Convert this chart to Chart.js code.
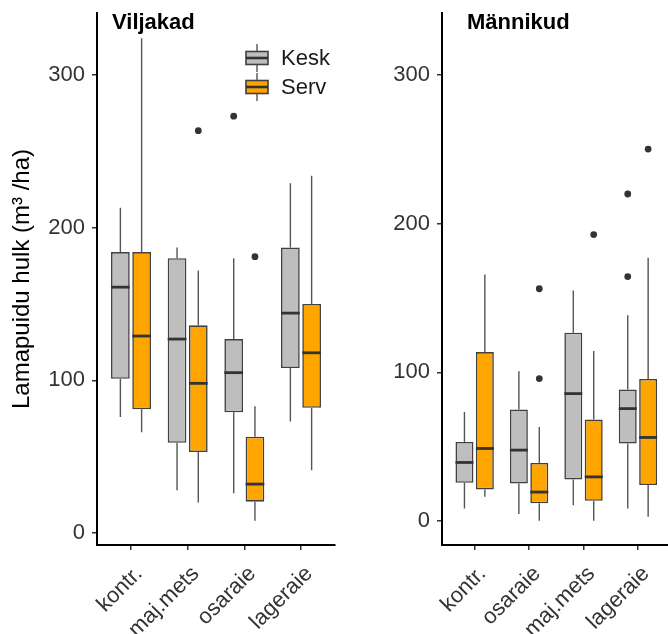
<!DOCTYPE html>
<html><head><meta charset="utf-8">
<script src="https://cdn.jsdelivr.net/npm/chart.js@4.4.0/dist/chart.umd.min.js"></script>
<style>
html,body{margin:0;padding:0;width:668px;height:634px;overflow:hidden;background:#fff;}
#w1{position:absolute;left:0;top:0;width:340px;height:634px;}
#w2{position:absolute;left:340px;top:0;width:334px;height:634px;}
</style></head><body>
<div id="w1"><canvas id="c1"></canvas></div>
<div id="w2"><canvas id="c2"></canvas></div>
<script>
// ---- DATA ----
const catsVilj = ['kontr.', 'maj.mets', 'osaraie', 'lageraie'];
const catsMann = ['kontr.', 'osaraie', 'maj.mets', 'lageraie'];
const seriesNames = ['Kesk', 'Serv'];
// each box: [lower whisker, Q1, median, Q3, upper whisker]
const viljKesk = [[76, 101, 161, 184, 213], [28, 59, 127, 180, 187], [26, 79, 105, 127, 180], [73, 108, 144, 187, 229]];
const viljServ = [[66, 81, 129, 184, 324], [20, 53, 98, 136, 172], [8, 20.5, 32, 63, 83], [41, 82, 118, 150, 234]];
const viljKeskOut = [[], [], [273], []];
const viljServOut = [[], [263.5], [181], []];
const mannKesk = [[8.5, 25.7, 39.4, 53.2, 73.4], [4.7, 25.3, 47.7, 75, 100.7], [10.7, 28, 85.7, 126.6, 155], [8.5, 52.1, 75.6, 88.4, 138.3]];
const mannServ = [[16.3, 21.3, 48.8, 113.6, 165.8], [0.2, 11.9, 19.5, 39.1, 63.3], [0.2, 13.6, 29.7, 68.3, 114.3], [2.9, 24.2, 56.2, 95.5, 177]];
const mannKeskOut = [[], [], [], [164.4, 219.9]];
const mannServOut = [[], [95.8, 156.2], [192.6], [250.1]];
const yTickValues = [0, 100, 200, 300];
const yTitle = 'Lamapuidu hulk (m³ /ha)';

// ---- STYLE ----
const FONT = "'Liberation Sans', Arial, sans-serif";
const FILL = {Kesk: '#BEBEBE', Serv: '#FFA500'};
const LINE = '#404040';
const WHISK = '#555555';
const CAT_PCT = 0.75, BAR_PCT = 0.88;

const boxPlugin = {
  id: 'boxParts',
  beforeDatasetsDraw(chart) {
    const ctx = chart.ctx, y = chart.scales.y;
    ctx.save();
    ctx.strokeStyle = WHISK; ctx.lineWidth = 1.4;
    chart.data.datasets.forEach((ds, di) => {
      if (!ds.stats) return;
      chart.getDatasetMeta(di).data.forEach((el, j) => {
        const s = ds.stats[j];
        ctx.beginPath();
        ctx.moveTo(el.x, y.getPixelForValue(s[3])); ctx.lineTo(el.x, y.getPixelForValue(s[4]));
        ctx.moveTo(el.x, y.getPixelForValue(s[1])); ctx.lineTo(el.x, y.getPixelForValue(s[0]));
        ctx.stroke();
      });
    });
    ctx.restore();
  },
  afterDatasetsDraw(chart) {
    const ctx = chart.ctx, y = chart.scales.y;
    ctx.save();
    ctx.strokeStyle = '#333333'; ctx.lineWidth = 2.8;
    chart.data.datasets.forEach((ds, di) => {
      if (!ds.stats) return;
      chart.getDatasetMeta(di).data.forEach((el, j) => {
        const py = y.getPixelForValue(ds.stats[j][2]);
        ctx.beginPath();
        ctx.moveTo(el.x - el.width / 2, py); ctx.lineTo(el.x + el.width / 2, py);
        ctx.stroke();
      });
    });
    ctx.restore();
  }
};

const panelTitlePlugin = {
  id: 'panelTitle',
  afterDraw(chart, args, opts) {
    const ctx = chart.ctx;
    ctx.save();
    ctx.font = 'bold 22px ' + FONT;
    ctx.fillStyle = '#000';
    ctx.textAlign = 'left'; ctx.textBaseline = 'middle';
    ctx.fillText(opts.text, chart.chartArea.left + opts.dx, opts.y);
    ctx.restore();
  }
};

const boxLegendPlugin = {
  id: 'boxLegend',
  afterDraw(chart, args, opts) {
    if (!opts.show) return;
    const ctx = chart.ctx;
    ctx.save();
    opts.items.forEach((name, i) => {
      const cy = opts.y + i * opts.rowH;
      const x0 = opts.x, w = 22, cx = x0 + w / 2;
      ctx.strokeStyle = WHISK; ctx.lineWidth = 1.4;
      ctx.beginPath(); ctx.moveTo(cx, cy - 14); ctx.lineTo(cx, cy + 14); ctx.stroke();
      ctx.fillStyle = FILL[name];
      ctx.fillRect(x0, cy - 6.5, w, 13);
      ctx.strokeStyle = LINE; ctx.lineWidth = 1.6;
      ctx.strokeRect(x0, cy - 6.5, w, 13);
      ctx.lineWidth = 2.6; ctx.strokeStyle = '#333333';
      ctx.beginPath(); ctx.moveTo(x0, cy); ctx.lineTo(x0 + w, cy); ctx.stroke();
      ctx.fillStyle = '#1a1a1a';
      ctx.font = '22px ' + FONT;
      ctx.textAlign = 'left'; ctx.textBaseline = 'middle';
      ctx.fillText(name, x0 + 35, cy + 1);
    });
    ctx.restore();
  }
};

function buildChart(id, cats, kesk, serv, keskOut, servOut, yMin, yMax, title, titleDx, yWidth, padRight, showY, showLegend) {
  const xs = cats.map((c, i) => i + 1);
  const dodge = CAT_PCT / 4;
  const boxData = (st) => xs.map((x, i) => ({x: x, y: [st[i][1], st[i][3]]}));
  const outData = (out, sign) => out.flatMap((vals, i) => vals.map(v => ({x: xs[i] + sign * dodge, y: v})));
  const barCommon = {type: 'bar', borderColor: LINE, borderWidth: 1.6, borderSkipped: false,
    categoryPercentage: CAT_PCT, barPercentage: BAR_PCT, grouped: true};
  const ptCommon = {type: 'scatter', pointRadius: 3.4, pointBackgroundColor: '#333', pointBorderWidth: 0, pointHoverRadius: 3.4};
  return new Chart(document.getElementById(id), {
    type: 'bar',
    data: {
      datasets: [
        Object.assign({label: seriesNames[0], data: boxData(kesk), backgroundColor: FILL.Kesk, stats: kesk}, barCommon),
        Object.assign({label: seriesNames[1], data: boxData(serv), backgroundColor: FILL.Serv, stats: serv}, barCommon),
        Object.assign({label: 'Kesk outliers', data: outData(keskOut, -1)}, ptCommon),
        Object.assign({label: 'Serv outliers', data: outData(servOut, 1)}, ptCommon)
      ]
    },
    options: {
      responsive: true, maintainAspectRatio: false, animation: false,
      layout: {padding: {top: 13, right: padRight, left: 0, bottom: 0}},
      plugins: {
        legend: {display: false}, tooltip: {enabled: false},
        panelTitle: {text: title, dx: titleDx, y: 23},
        boxLegend: {show: showLegend, items: seriesNames, x: 246, y: 58, rowH: 29}
      },
      scales: {
        x: {
          type: 'linear', min: 0.4, max: cats.length + 0.6, offset: false,
          afterBuildTicks: s => { s.ticks = xs.map(v => ({value: v})); },
          afterFit: s => { s.height = 89; s.paddingLeft = 0; s.paddingRight = 0; },
          border: {display: true, color: '#000', width: 2},
          grid: {offset: false, drawOnChartArea: false, drawTicks: true, tickLength: 5, color: '#333', lineWidth: 1.5},
          ticks: {autoSkip: false, minRotation: 45, maxRotation: 45, labelOffset: 8, padding: 11,
            font: {family: FONT, size: 22}, color: '#333',
            callback: v => cats[Math.round(v) - 1]}
        },
        y: {
          type: 'linear', min: yMin, max: yMax,
          afterBuildTicks: s => { s.ticks = yTickValues.map(v => ({value: v})); },
          afterFit: s => { s.width = yWidth; s.paddingTop = 0; s.paddingBottom = 0; },
          border: {display: true, color: '#000', width: 2},
          grid: {drawOnChartArea: false, drawTicks: true, tickLength: 5, color: '#333', lineWidth: 1.5},
          ticks: {font: {family: FONT, size: 22}, color: '#333', padding: 7},
          title: {display: showY, text: yTitle, color: '#000', font: {family: FONT, size: 24}, padding: {top: 8, bottom: 0}}
        }
      }
    },
    plugins: [boxPlugin, panelTitlePlugin, boxLegendPlugin]
  });
}

buildChart('c1', catsVilj, viljKesk, viljServ, viljKeskOut, viljServOut, -7.9, 340.6, 'Viljakad', 15, 97, 5, true, true);
buildChart('c2', catsMann, mannKesk, mannServ, mannKeskOut, mannServOut, -16.1, 341.6, 'Männikud', 25, 102, 0, false, false);
</script></body></html>
